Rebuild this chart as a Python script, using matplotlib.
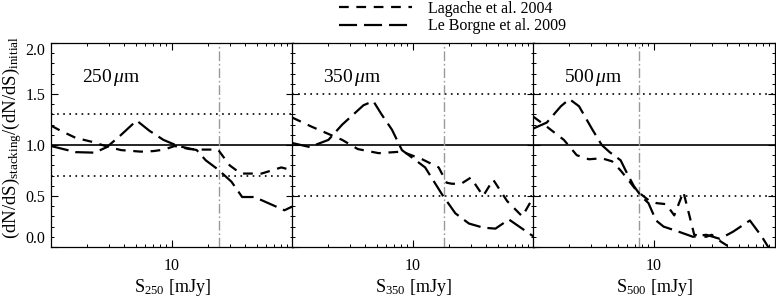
import numpy as np
import matplotlib
matplotlib.use('Agg')
import matplotlib.pyplot as plt
from matplotlib.lines import Line2D
from matplotlib import ticker

# Fonts: Times-like serif as in the IDL output
plt.rcParams['font.family'] = 'Liberation Serif'
plt.rcParams['mathtext.fontset'] = 'custom'
plt.rcParams['mathtext.rm'] = 'Liberation Serif'
plt.rcParams['mathtext.it'] = 'Liberation Serif:italic'
plt.rcParams['lines.scale_dashes'] = False

# Data
bands = ['250', '350', '500']
confusion = [24.5, 18.0, 7.5]           # dash-dot vertical line [mJy]
band_lo = [0.7, 0.5, 0.5]               # lower dotted line
band_hi = [1.3, 1.5, 1.5]               # upper dotted line

lag250_x = [1.0, 1.2, 1.6, 2.2, 3.0, 3.8, 5.5, 7.0, 8.6, 10.5, 14, 18, 24, 30, 37, 55, 80, 100]
lag250_y = [1.19, 1.14, 1.07, 1.03, 0.98, 0.95, 0.935, 0.94, 0.955, 0.99, 0.96, 0.955, 0.955, 0.8, 0.72, 0.72, 0.78, 0.75]
long250_x = [1.0, 1.6, 2.3, 2.9, 3.8, 5.1, 6.5, 8.5, 11.2, 16, 19, 24, 31, 38, 48, 85, 100]
long250_y = [0.99, 0.93, 0.925, 0.98, 1.1, 1.24, 1.14, 1.05, 0.99, 0.95, 0.85, 0.76, 0.64, 0.49, 0.49, 0.36, 0.4]

lag350_x = [1.0, 1.45, 2.6, 3.5, 5.2, 8.1, 11.9, 16.3, 19, 21, 25, 30, 38, 46, 60, 80, 100]
lag350_y = [1.27, 1.18, 1.05, 0.96, 0.92, 0.935, 0.86, 0.78, 0.63, 0.62, 0.62, 0.68, 0.5, 0.66, 0.45, 0.3, 0.5]
long350_x = [1.0, 1.4, 2.0, 2.6, 3.9, 4.7, 5.5, 6.7, 8.1, 10, 12.6, 17.5, 22.4, 29, 38, 48, 62, 100]
long350_y = [1.02, 0.98, 1.05, 1.2, 1.39, 1.43, 1.3, 1.15, 0.95, 0.87, 0.78, 0.51, 0.33, 0.23, 0.19, 0.18, 0.27, 0.1]

lag500_x = [1.0, 1.3, 1.8, 2.3, 2.9, 3.7, 4.5, 5.3, 6.2, 7.2, 9.0, 10.5, 12.6, 14.7, 17.5, 19.7, 21.5, 27, 30, 36, 42, 50]
lag500_y = [1.28, 1.18, 1.05, 0.9, 0.86, 0.87, 0.84, 0.75, 0.65, 0.55, 0.46, 0.43, 0.42, 0.31, 0.54, 0.3, 0.12, 0.1, 0.12, 0.05, 0.0, -0.05]
long500_x = [1.0, 1.3, 1.7, 2.0, 2.4, 3.1, 3.7, 4.3, 5.3, 6.0, 6.8, 7.8, 9.0, 10.4, 12, 16, 21, 27, 35, 45, 62, 78, 90]
long500_y = [1.16, 1.22, 1.38, 1.45, 1.38, 1.15, 1.0, 0.93, 0.85, 0.72, 0.6, 0.5, 0.43, 0.26, 0.2, 0.15, 0.1, 0.12, 0.08, 0.15, 0.26, 0.1, -0.02]

lag_x = [lag250_x, lag350_x, lag500_x]
lag_y = [lag250_y, lag350_y, lag500_y]
long_x = [long250_x, long350_x, long500_x]
long_y = [long250_y, long350_y, long500_y]

SHORT = (0, (7, 5.5))
LONG = (0, (13, 5))
LW = 1.6


def draw_panel(ax, i):
    ax.set_xscale('log')
    ax.set_xlim(1, 100)
    ax.set_ylim(0, 2)

    ax.axhline(1.0, color='k', lw=1.2)
    for yv in (band_lo[i], band_hi[i]):
        ax.axhline(yv, color='k', lw=1.2, linestyle=(0, (1.2, 3.2)))
    ax.axvline(confusion[i], color='#999999', lw=1.0, linestyle=(0, (7, 2, 1.2, 2)))

    ax.plot(lag_x[i], lag_y[i], color='k', lw=LW, linestyle=SHORT)
    ax.plot(long_x[i], long_y[i], color='k', lw=LW, linestyle=LONG)

    ax.text(0.128, 0.83, bands[i] + r'$\,\mu$m', transform=ax.transAxes,
            fontsize=14, va='center', ha='left')

    ax.xaxis.set_major_locator(ticker.FixedLocator([10]))
    ax.xaxis.set_major_formatter(ticker.FixedFormatter(['10']))
    ax.xaxis.set_minor_locator(ticker.LogLocator(base=10, subs=np.arange(2, 10), numticks=10))
    ax.xaxis.set_minor_formatter(ticker.NullFormatter())
    ax.yaxis.set_major_locator(ticker.FixedLocator([0, 0.5, 1.0, 1.5, 2.0]))
    ax.yaxis.set_major_formatter(ticker.FixedFormatter(['0.0', '0.5', '1.0', '1.5', '2.0']))
    ax.yaxis.set_minor_locator(ticker.MultipleLocator(0.1))
    ax.tick_params(which='both', direction='in', top=True, right=True, labelsize=11.5)
    ax.tick_params(which='major', length=5, width=0.8)
    ax.tick_params(which='minor', length=2.5, width=0.7)
    ax.tick_params(axis='x', pad=8)
    ax.tick_params(axis='y', pad=4)
    if i > 0:
        ax.tick_params(labelleft=False)
    else:
        yt = ax.yaxis.get_major_ticks()
        yt[0].label1.set_va('bottom')
        yt[-1].label1.set_va('top')

    ax.set_xlabel(r'S$_{' + bands[i] + r'}$ [mJy]', fontsize=13, labelpad=2)
    for sp in ax.spines.values():
        sp.set_linewidth(0.9)


def main():
    fig = plt.figure(figsize=(7.76, 3.02), dpi=100)
    W, H = 776.0, 302.0
    lefts = [51, 292, 533]
    for i, l in enumerate(lefts):
        ax = fig.add_axes([l / W, 55 / H, 242 / W, 204 / H])
        draw_panel(ax, i)

    fig.text(12 / W, 0.545, r'(dN/dS)$_{\rm stacking}$/(dN/dS)$_{\rm initial}$',
             rotation=90, ha='center', va='center', fontsize=13.5)

    handles = [Line2D([], [], color='k', lw=LW, linestyle=SHORT),
               Line2D([], [], color='k', lw=LW, linestyle=LONG)]
    fig.legend(handles, ['Lagache et al. 2004', 'Le Borgne et al. 2009'],
               loc='upper left', bbox_to_anchor=(338 / W, 1.0), frameon=False,
               handlelength=4.6, handletextpad=1.0, labelspacing=0.1,
               borderpad=0.05, borderaxespad=0,
               prop={'family': 'Liberation Serif', 'size': 11.5})

    fig.savefig('out.png', dpi=100)


if __name__ == "__main__":
    main()
